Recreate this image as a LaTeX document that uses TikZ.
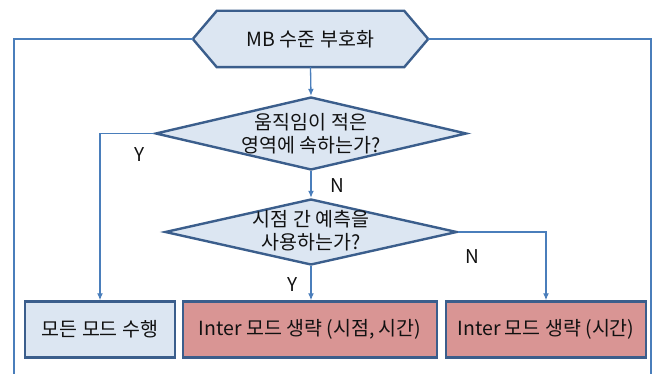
\documentclass[tikz,border=0pt]{standalone}
\usepackage{fontspec}
\setmainfont{Noto Sans CJK KR}
\usetikzlibrary{shapes.geometric,arrows.meta}
\definecolor{fillblue}{HTML}{DCE6F2}
\definecolor{fillred}{HTML}{D99594}
\definecolor{edgeblue}{HTML}{3B5E8C}
\definecolor{linkblue}{HTML}{4A7EBB}
\definecolor{txt}{HTML}{111111}
\tikzset{
  shapeline/.style={draw=edgeblue, line width=2.4pt, line join=miter},
  bluebox/.style={shapeline, fill=fillblue, rectangle, inner sep=0pt, minimum height=56pt},
  redbox/.style={shapeline, fill=fillred, rectangle, inner sep=0pt, minimum height=56pt},
  dia/.style={shapeline, fill=fillblue, diamond, inner sep=0pt},
  txtnode/.style={text=txt, font=\fontsize{19.5}{23}\selectfont, align=center, inner sep=0pt},
  lbl/.style={text=txt, font=\fontsize{19}{22}\selectfont, inner sep=0pt},
  link/.style={draw=linkblue, line width=1.3pt},
  arrow/.style={link, -{Latex[length=7pt,width=6pt]}},
}
\begin{document}
\begin{tikzpicture}[x=1pt,y=-1pt]
\useasboundingbox (0,0) rectangle (664,374);
% hexagon
\node[inner sep=0pt, minimum width=235pt, minimum height=56pt] (hex) at (310.5,39) {};
\draw[shapeline, fill=fillblue] (hex.west) -- ([xshift=24pt]hex.north west) -- ([xshift=-24pt]hex.north east) -- (hex.east) -- ([xshift=-24pt]hex.south east) -- ([xshift=24pt]hex.south west) -- cycle;
\node[txtnode] (hext) at (hex) {MB 수준 부호화};
% diamonds
\node[dia, minimum width=311pt, minimum height=73pt] (d1) at (311,133.5) {};
\node[txtnode] (d1t) at (d1) {움직임이 적은\\영역에 속하는가?};
\node[dia, minimum width=292pt, minimum height=66pt] (d2) at (311,232) {};
\node[txtnode] (d2t) at ([yshift=1pt]d2) {시점 간 예측을\\사용하는가?};
% boxes
\node[bluebox, minimum width=150pt] (b1) at (100,329.5) {};
\node[txtnode] (b1t) at (b1) {모든 모드 수행};
\node[redbox, minimum width=254pt] (b2) at (310,329.5) {};
\node[txtnode] (b2t) at (b2) {Inter 모드 생략 (시점, 시간)};
\node[redbox, minimum width=200pt] (b3) at (546,329.5) {};
\node[txtnode] (b3t) at (b3) {Inter 모드 생략 (시간)};
% outer lines
\coordinate (lt) at (14,39);
\coordinate (lb) at (14,374);
\coordinate (rt) at (651,39);
\coordinate (rb) at (651,374);
\draw[link] (hex.west) -- (lt) -- (lb);
\draw[link] (hex.east) -- (rt) -- (rb);
% connectors
\draw[arrow] (hex.south) -- (d1.north);
\draw[arrow] (d1.west) -| (b1.north);
\draw[arrow] (d1.south) -- (d2.north);
\draw[arrow] (d2.south) -- (b2.north -| d2.south);
\draw[arrow] (d2.east) -| (b3.north);
% labels
\node[lbl] (ly1) at (140,155) {Y};
\node[lbl] (ln1) at (337,186) {N};
\node[lbl] (ln2) at (472,257) {N};
\node[lbl] (ly2) at (293,285) {Y};
\end{tikzpicture}
\end{document}
